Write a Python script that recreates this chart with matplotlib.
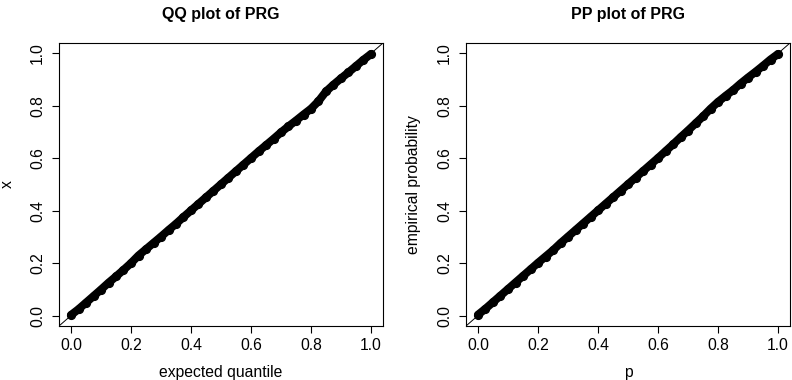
import matplotlib
matplotlib.use("Agg")
import matplotlib.pyplot as plt

plt.rcParams['font.family'] = ['Liberation Sans', 'DejaVu Sans']

# QQ plot data (expected quantile vs observed x)
qq_expected = [0.0, 0.025, 0.05, 0.075, 0.1, 0.125, 0.15, 0.175, 0.2, 0.225,
               0.25, 0.275, 0.3, 0.325, 0.35, 0.375, 0.4, 0.425, 0.45, 0.475,
               0.5, 0.525, 0.55, 0.575, 0.6, 0.625, 0.65, 0.675, 0.7, 0.725,
               0.75, 0.775, 0.8, 0.825, 0.85, 0.875, 0.9, 0.925, 0.95, 0.975, 1.0]
qq_observed = [0.002, 0.024, 0.049, 0.074, 0.099, 0.125, 0.149, 0.174, 0.200, 0.229,
               0.253, 0.277, 0.301, 0.326, 0.350, 0.376, 0.401, 0.426, 0.451, 0.476,
               0.501, 0.526, 0.551, 0.576, 0.601, 0.626, 0.650, 0.674, 0.699, 0.722,
               0.744, 0.767, 0.789, 0.818, 0.855, 0.881, 0.905, 0.928, 0.952, 0.976, 0.998]

# PP plot data (p vs empirical probability)
pp_p = [0.0, 0.025, 0.05, 0.075, 0.1, 0.125, 0.15, 0.175, 0.2, 0.225,
        0.25, 0.275, 0.3, 0.325, 0.35, 0.375, 0.4, 0.425, 0.45, 0.475,
        0.5, 0.525, 0.55, 0.575, 0.6, 0.625, 0.65, 0.675, 0.7, 0.725,
        0.75, 0.775, 0.8, 0.825, 0.85, 0.875, 0.9, 0.925, 0.95, 0.975, 1.0]
pp_empirical = [0.003, 0.026, 0.051, 0.076, 0.101, 0.126, 0.151, 0.176, 0.201, 0.225,
                0.249, 0.276, 0.301, 0.326, 0.351, 0.376, 0.401, 0.426, 0.451, 0.476,
                0.501, 0.526, 0.551, 0.576, 0.601, 0.627, 0.653, 0.680, 0.706, 0.733,
                0.760, 0.789, 0.815, 0.838, 0.860, 0.885, 0.908, 0.930, 0.953, 0.977, 0.998]

ticks = [0.0, 0.2, 0.4, 0.6, 0.8, 1.0]
tick_labels = ["0.0", "0.2", "0.4", "0.6", "0.8", "1.0"]

fig = plt.figure(figsize=(7.92, 3.80), dpi=100)
W, H = 792, 380
FS = 11.3

panels = [
    dict(left=59, x=qq_expected, y=qq_observed, title="QQ plot of PRG",
         xlabel="expected quantile", ylabel="x"),
    dict(left=466, x=pp_p, y=pp_empirical, title="PP plot of PRG",
         xlabel="p", ylabel="empirical probability"),
]

for p in panels:
    ax = fig.add_axes([p['left'] / W, 1 - 326 / H, 324 / W, 283 / H])
    ax.set_xlim(-0.04, 1.04)
    ax.set_ylim(-0.04, 1.04)
    ax.axline((0, 0), slope=1, color='black', lw=0.7, zorder=1)
    ax.plot(p['x'], p['y'], '-o', color='black', lw=5.8, ms=5.6,
            solid_capstyle='round', solid_joinstyle='round', zorder=2)
    ax.set_xticks(ticks)
    ax.set_xticklabels(tick_labels, fontsize=FS)
    ax.set_yticks(ticks)
    ax.set_yticklabels(tick_labels, fontsize=FS, rotation=90, va='center')
    ax.tick_params(direction='out', length=5, width=0.8, color='black', pad=4)
    ax.tick_params(axis='y', pad=5)
    for s in ax.spines.values():
        s.set_color('black')
        s.set_linewidth(0.8)
    ax.set_xlabel(p['xlabel'], fontsize=FS, va='center')
    ax.xaxis.set_label_coords(0.5, (326 - 373) / 283)
    ax.set_ylabel(p['ylabel'], fontsize=FS, va='center', ha='center')
    ax.yaxis.set_label_coords(-52 / 324, 0.5)
    fig.text((p['left'] + 162) / W, 1 - 15 / H, p['title'], fontsize=11.5,
             fontweight='bold', ha='center', va='center')

fig.savefig("out.png", dpi=100)
